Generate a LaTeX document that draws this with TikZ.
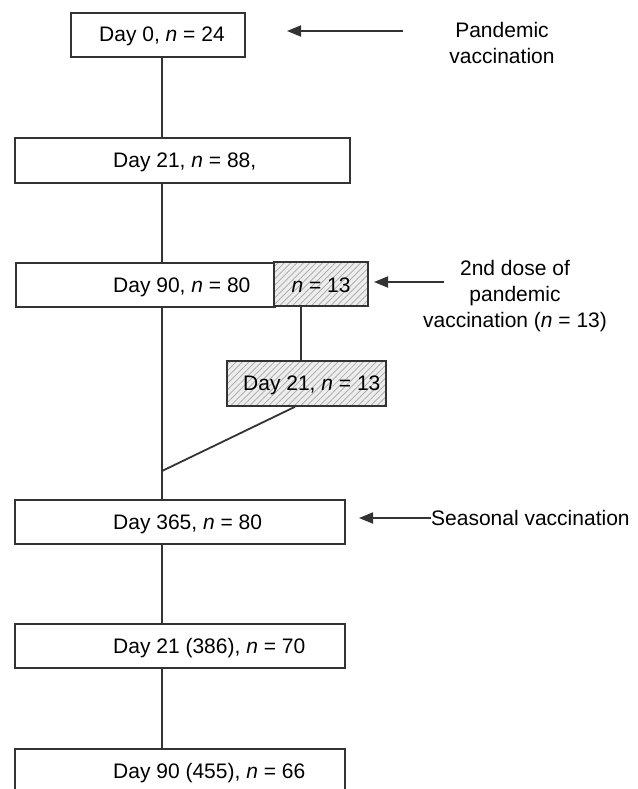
\documentclass[tikz,border=0pt]{standalone}
\usepackage{fontspec}
\setmainfont{Liberation Sans}
\usetikzlibrary{arrows.meta,patterns.meta}
\begin{document}
\begin{tikzpicture}[x=1pt,y=-1pt,
  boxstyle/.style={draw=black!80, line width=1.8pt, rectangle, inner sep=0pt, anchor=north west},
  hatchbox/.style={boxstyle, preaction={fill=black!7}, pattern={Lines[angle=45,distance=4.5pt,line width=0.7pt]}, pattern color=black!35},
  txt/.style={font=\fontsize{21}{26}\selectfont, inner sep=0pt},
  conn/.style={draw=black!80, line width=1.8pt},
  arr/.style={conn, -{Triangle[length=14pt,width=11pt]}}]
\useasboundingbox (0,0) rectangle (637,789);
\clip (0,0) rectangle (637,789);
\fill[white] (0,0) rectangle (637,789);

% boxes
\node[boxstyle, minimum width=174pt, minimum height=44pt] (b1) at (70,12) {};
\node[boxstyle, minimum width=335pt, minimum height=45pt] (b2) at (14,137) {};
\node[boxstyle, minimum width=259pt, minimum height=44pt] (b3) at (15,262) {};
\node[hatchbox, minimum width=94pt, minimum height=44pt] (b3r) at (274,262) {};
\node[hatchbox, minimum width=159pt, minimum height=45pt] (b4) at (226,360) {};
\node[boxstyle, minimum width=330pt, minimum height=44pt] (b5) at (14,499) {};
\node[boxstyle, minimum width=330pt, minimum height=44pt] (b6) at (14,623) {};
\node[boxstyle, minimum width=330pt, minimum height=44pt] (b7) at (14,748) {};

% box texts
\node[txt, anchor=base west] (t1) at (99,42) {Day 0, \textit{n} = 24};
\node[txt, anchor=base west] (t2) at (113,167.5) {Day 21, \textit{n} = 88,};
\node[txt, anchor=base west] (t3) at (113,292) {Day 90, \textit{n} = 80};
\node[txt, anchor=base] (t3r) at (321,292) {\textit{n} = 13};
\node[txt, anchor=base west] (t4) at (243,390.5) {Day 21, \textit{n} = 13};
\node[txt, anchor=base west] (t5) at (113,529) {Day 365, \textit{n} = 80};
\node[txt, anchor=base west] (t6) at (113,653) {Day 21 (386), \textit{n} = 70};
\node[txt, anchor=base west] (t7) at (113,778) {Day 90 (455), \textit{n} = 66};

% connectors
\coordinate (spine) at (162,0);
\coordinate (split) at (301,0);
\coordinate (dg) at (295,0);
\coordinate (join) at (162,471);
\draw[conn] (b1.south -| spine) -- (b2.north -| spine);
\draw[conn] (b2.south -| spine) -- (b3.north -| spine);
\draw[conn] (b3.south -| spine) -- (b5.north -| spine);
\draw[conn] (b3r.south -| split) -- (b4.north -| split);
\draw[conn] (b4.south -| dg) -- (join);
\draw[conn] (b5.south -| spine) -- (b6.north -| spine);
\draw[conn] (b6.south -| spine) -- (b7.north -| spine);

% side labels and arrows
\node[txt, align=center] (l1) at (502,42.5) {Pandemic\\vaccination};
\node[txt, align=center] (l2) at (515,296.5) {2nd dose of\\pandemic\\vaccination (\textit{n} = 13)};
\node[txt, anchor=base west] (l3) at (431,525) {Seasonal vaccination};

\coordinate (a1t) at (403,31);
\coordinate (a1h) at (287,31);
\coordinate (a2t) at (444,282);
\coordinate (a2h) at (374,282);
\coordinate (a3h) at (359,518);
\draw[arr] (a1t) -- (a1h);
\draw[arr] (a2t) -- (a2h);
\draw[arr] (l3.west |- a3h) -- (a3h);
\end{tikzpicture}
\end{document}
